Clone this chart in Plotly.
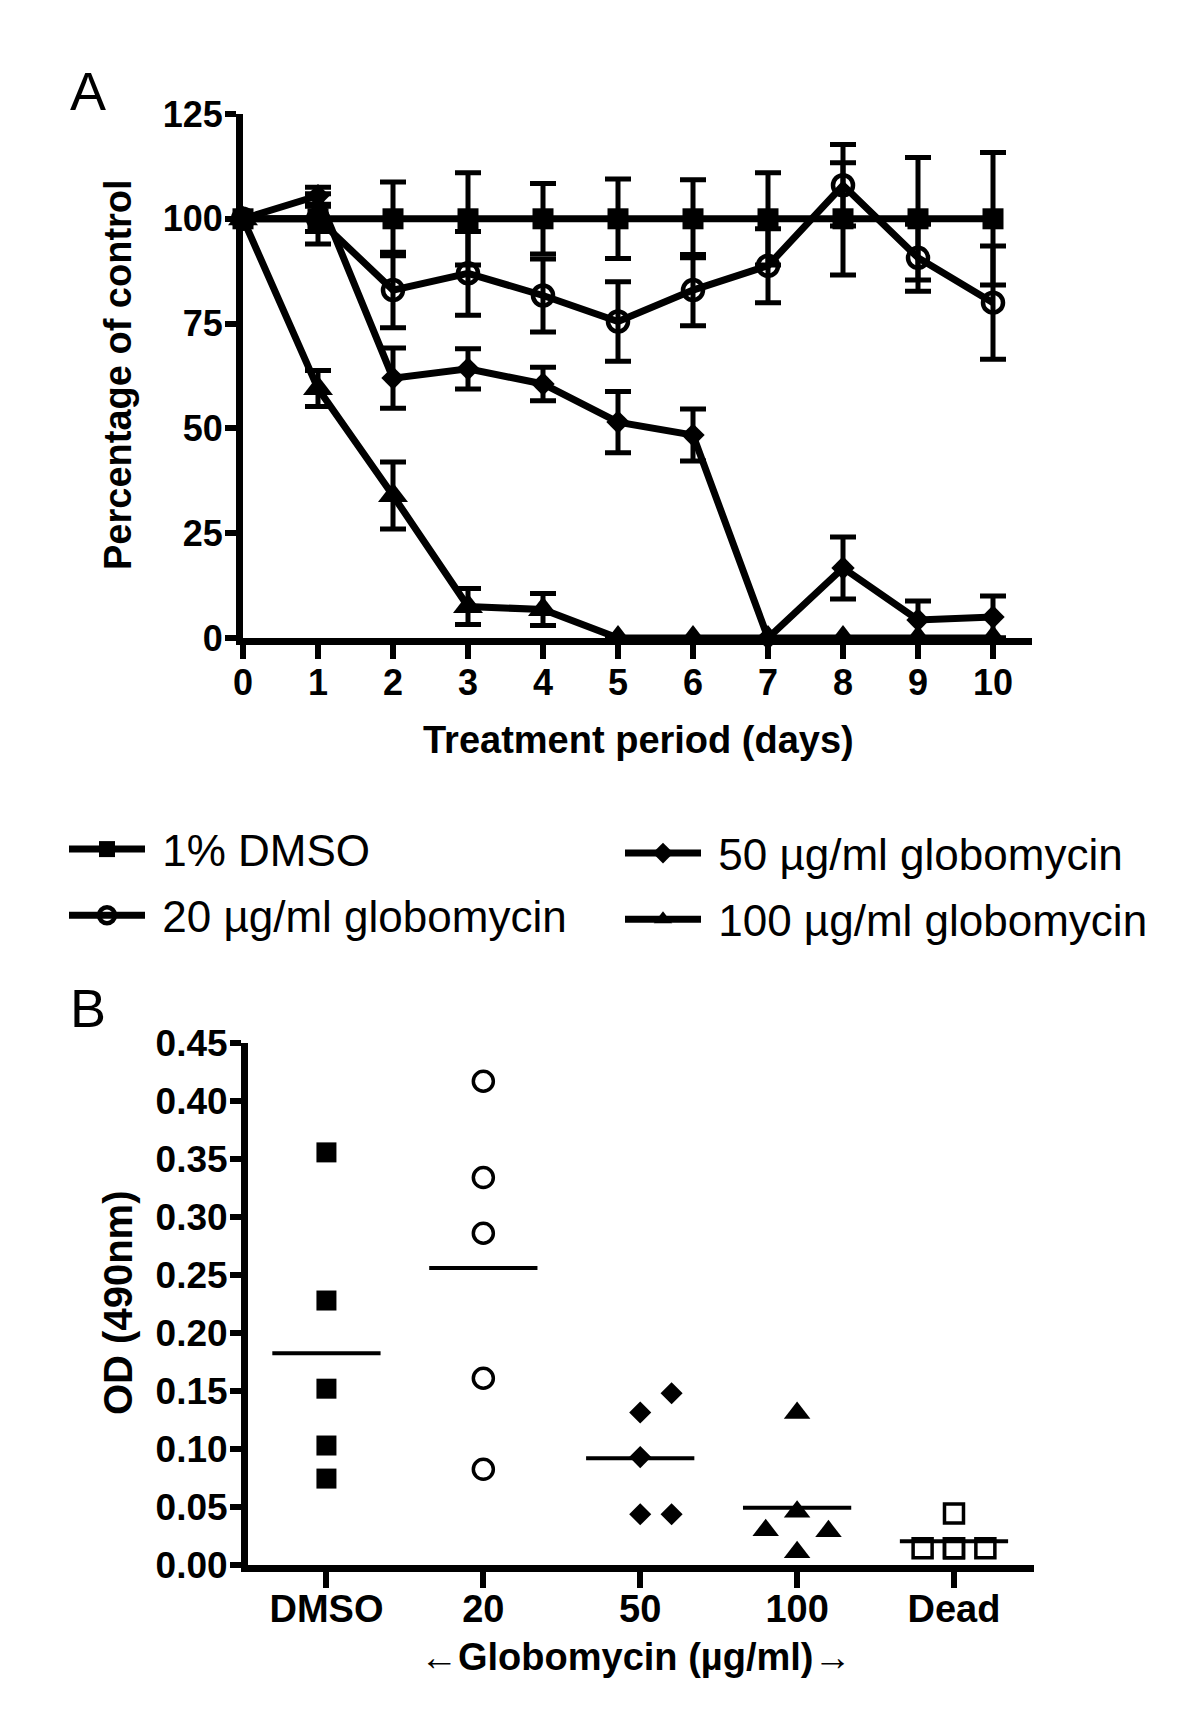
import plotly.graph_objects as go

# ---------------- Panel A data ----------------
days = [0, 1, 2, 3, 4, 5, 6, 7, 8, 9, 10]
dmso_mean = [100, 100, 100, 100, 100, 100, 100, 100, 100, 100, 100]
dmso_err = [0, 6, 8.8, 11, 8.4, 9.5, 9.3, 11, 13.4, 14.6, 15.8]
g20_mean = [100, 100, 83, 87, 81.7, 75.5, 83, 88.8, 108, 90.7, 80]
g20_err = [0, 3, 9, 10, 8.7, 9.5, 8.5, 8.8, 9.7, 8, 13.5]
g50_mean = [100, 105.5, 62, 64.2, 60.6, 51.5, 48.4, 0, 16.7, 4.3, 5]
g50_err = [0, 2, 7.2, 4.8, 4, 7.3, 6.2, 0, 7.4, 4.5, 5]
g100_mean = [100, 59.5, 34, 7.5, 6.8, 0, 0, 0, 0, 0, 0]
g100_err = [0, 4.3, 8, 4.3, 3.8, 0, 0, 0, 0, 0, 0]
a_yticks = [0, 25, 50, 75, 100, 125]

# ---------------- Panel B data ----------------
b_categories = ["DMSO", "20", "50", "100", "Dead"]
b_dmso = [0.3557, 0.228, 0.152, 0.103, 0.0745]
b_20 = [0.417, 0.334, 0.286, 0.161, 0.0825]
b_50 = [0.1315, 0.148, 0.093, 0.0438, 0.0438]
b_100 = [0.131, 0.046, 0.030, 0.029, 0.011]
b_dead = [0.0445, 0.0145, 0.0145, 0.0145, 0.0145]
b_yticks = [0.00, 0.05, 0.10, 0.15, 0.20, 0.25, 0.30, 0.35, 0.40, 0.45]

# horizontal spread of overlapping points (layout, not values)
b_spread = [
    [0, 0, 0, 0, 0],
    [0, 0, 0, 0, 0],
    [0, 0.2, 0, 0, 0.2],
    [0, 0, -0.2, 0.2, 0],
    [0, -0.2, 0, 0.2, 0],
]

FONT = "Liberation Sans, Arial, sans-serif"
W, H = 1200, 1736
OFF = 8  # page body margin


def px(x):
    return (x - OFF) / W


def py(y):
    return 1 - (y - OFF) / H


fig = go.Figure()

NB = "\u00a0"
series = [
    ("1% DMSO", dmso_mean, dmso_err, "square", 21, 0, "legend"),
    ("20 µg/ml globomycin", g20_mean, g20_err, "circle-open", 20, 4.5, "legend"),
    ("50 µg/ml globomycin", g50_mean, g50_err, "diamond", 18, 0, "legend2"),
    ("100 µg/ml globomycin", g100_mean, g100_err, "triangle-up", 26, 0, "legend2"),
]
for name, m, e, sym, sz, lw, leg in series:
    fig.add_trace(go.Scatter(
        x=days, y=m, name=NB + name, mode="lines+markers",
        line=dict(color="black", width=7),
        marker=dict(symbol=sym, size=sz, color="black",
                    line=dict(color="black", width=lw)),
        error_y=dict(type="data", array=e, visible=True, color="black",
                     thickness=5, width=13),
        cliponaxis=False, legend=leg, legendgroup=name,
        xaxis="x", yaxis="y",
    ))

# Panel B scatter + mean lines
b_groups = [b_dmso, b_20, b_50, b_100, b_dead]
b_symbols = [("square", 20, 0), ("circle-open", 20, 3.5), ("diamond", 17, 0),
             ("triangle-up", 23, 0), ("square-open", 19, 3.5)]
for gi, vals in enumerate(b_groups):
    sym, sz, lw = b_symbols[gi]
    xs = [gi + off for off in b_spread[gi]]
    fig.add_trace(go.Scatter(
        x=xs, y=vals, mode="markers", showlegend=False,
        marker=dict(symbol=sym, size=sz, color="black", line=dict(color="black", width=lw)),
        cliponaxis=False, xaxis="x2", yaxis="y2",
    ))
    mean = sum(vals) / len(vals)
    fig.add_trace(go.Scatter(
        x=[gi - 0.345, gi + 0.345], y=[mean, mean], mode="lines", showlegend=False,
        line=dict(color="black", width=4), cliponaxis=False, xaxis="x2", yaxis="y2",
    ))

tickfont = dict(family=FONT, size=36, color="black", weight="bold")
legfont = dict(family=FONT, size=44, color="black")

fig.update_layout(
    width=W, height=H, template="none",
    paper_bgcolor="white", plot_bgcolor="white",
    margin=dict(l=0, r=0, t=0, b=0),
    font=dict(family=FONT, color="black"),
    xaxis=dict(domain=[px(243), px(1032)], range=[0, 10.52], tickvals=days,
               showline=True, linewidth=7, linecolor="black", showgrid=False, zeroline=False,
               ticks="outside", ticklen=14, tickwidth=6, tickcolor="black",
               tickfont=tickfont, ticklabelstandoff=-7, anchor="y"),
    yaxis=dict(domain=[py(638), py(114)], range=[0, 125], tickvals=a_yticks,
               showline=True, linewidth=7, linecolor="black", showgrid=False, zeroline=False,
               ticks="outside", ticklen=11, tickwidth=6, tickcolor="black",
               tickfont=tickfont, ticklabelstandoff=-5, anchor="x"),
    xaxis2=dict(domain=[px(248), px(1034)], range=[-0.5, 4.51], tickvals=[0, 1, 2, 3, 4],
                ticktext=b_categories,
                showline=True, linewidth=7, linecolor="black", showgrid=False, zeroline=False,
                ticks="outside", ticklen=16, tickwidth=6, tickcolor="black",
                tickfont=dict(family=FONT, size=38, color="black", weight="bold"),
                ticklabelstandoff=-12, anchor="y2"),
    yaxis2=dict(domain=[py(1565), py(1043)], range=[0, 0.45], tickvals=b_yticks,
                tickformat=".2f",
                showline=True, linewidth=7, linecolor="black", showgrid=False, zeroline=False,
                ticks="outside", ticklen=11, tickwidth=6, tickcolor="black",
                tickfont=dict(family=FONT, size=37, color="black", weight="bold"),
                ticklabelstandoff=-5, anchor="x2"),
    legend=dict(x=px(64), y=py(814), xanchor="left", yanchor="top",
                orientation="v", itemwidth=76, traceorder="grouped", tracegroupgap=6,
                font=legfont, bgcolor="rgba(0,0,0,0)"),
    legend2=dict(x=px(620), y=py(818), xanchor="left", yanchor="top",
                 orientation="v", itemwidth=76, traceorder="grouped", tracegroupgap=6,
                 font=legfont, bgcolor="rgba(0,0,0,0)"),
)

ann_bold = dict(family=FONT, size=38, color="black", weight="bold")


def ann(text, x, y, font, angle=0):
    fig.add_annotation(text=text, x=px(x), y=py(y), xref="paper", yref="paper",
                       xanchor="center", yanchor="middle", textangle=angle,
                       showarrow=False, font=font)


ann("A", 88, 91, dict(family=FONT, size=54, color="black"))
ann("B", 88, 1008, dict(family=FONT, size=54, color="black"))
ann("Percentage of control", 118, 374, ann_bold, -90)
ann("Treatment period (days)", 638, 740, ann_bold)
ann("OD (490nm)", 118, 1302, dict(family=FONT, size=40, color="black", weight="bold"), -90)
ann("←Globomycin (µg/ml)→", 635, 1657, ann_bold)

fig.write_html("out.html")
